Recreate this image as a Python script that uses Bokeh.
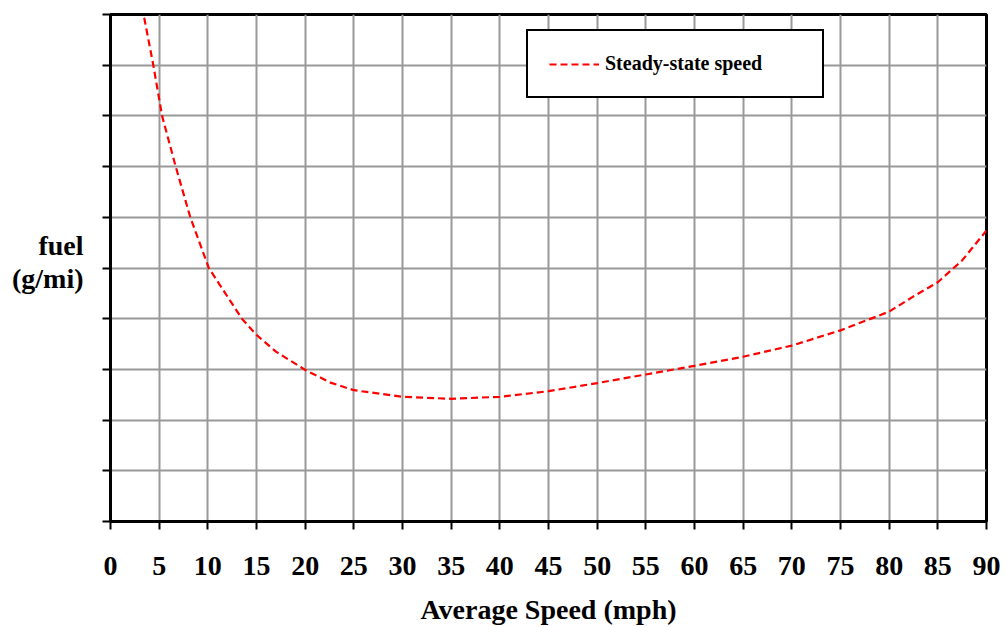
from bokeh.plotting import figure
from bokeh.models import Range1d, FixedTicker, Legend, LegendItem, LinearAxis
from bokeh.embed import file_html
from bokeh.resources import INLINE

# Data (fuel in grid units, y axis unlabeled)
speed = [3.3, 3.4, 4.4, 5.3, 6.7, 8.2, 10.1, 11.8, 13.5, 15, 17, 20, 22.6, 25,
         30, 35, 40, 45, 50, 55, 60, 65, 70, 75, 80, 82.5, 85, 87.5, 90]
fuel = [10.15, 10.0, 9.0, 8.0, 7.0, 6.0, 5.0, 4.5, 4.0, 3.68, 3.35, 2.99, 2.74, 2.59,
        2.46, 2.42, 2.46, 2.57, 2.73, 2.90, 3.07, 3.25, 3.47, 3.77, 4.14, 4.44, 4.72, 5.15, 5.74]
x_ticks = list(range(0, 95, 5))
y_ticks = list(range(0, 11))
series_name = "Steady-state speed"
x_title = "Average Speed (mph)"
y_title = "fuel\n(g/mi)"
y_title_pos = 5.12

FONT = "Liberation Serif"

p = figure(width=1005, height=627, output_backend="svg", toolbar_location=None,
           x_range=Range1d(0, 90), y_range=Range1d(0, 10),
           min_border_left=110, min_border_right=19, min_border_top=14, min_border_bottom=105)
p.background_fill_color = "white"
p.border_fill_color = "white"
p.outline_line_color = "black"
p.outline_line_width = 3

# Grid
p.xgrid.ticker = FixedTicker(ticks=x_ticks)
p.ygrid.ticker = FixedTicker(ticks=y_ticks)
for g in (p.xgrid, p.ygrid):
    g.grid_line_color = "#999999"
    g.grid_line_width = 2

# X axis
xa = p.xaxis[0]
xa.ticker = FixedTicker(ticks=x_ticks)
xa.axis_line_width = 3
xa.axis_line_color = "black"
xa.major_tick_in = 0
xa.major_tick_out = 8
xa.major_tick_line_width = 2
xa.minor_tick_line_color = None
xa.major_label_text_font = FONT
xa.major_label_text_font_style = "bold"
xa.major_label_text_font_size = "28px"
xa.major_label_text_color = "black"
xa.major_label_standoff = 27
xa.axis_label = x_title
xa.axis_label_text_font = FONT
xa.axis_label_text_font_style = "bold"
xa.axis_label_text_font_size = "28px"
xa.axis_label_text_color = "black"
xa.axis_label_standoff = 16

# Y axis (ticks only)
ya = p.yaxis[0]
ya.ticker = FixedTicker(ticks=y_ticks)
ya.axis_line_width = 3
ya.axis_line_color = "black"
ya.major_tick_in = 0
ya.major_tick_out = 8
ya.major_tick_line_width = 2
ya.minor_tick_line_color = None
ya.major_label_text_color = None
ya.major_label_text_font_size = "1px"
ya.major_label_standoff = 0

# Y title drawn as a horizontal label on an extra left axis
ta = LinearAxis(ticker=FixedTicker(ticks=[y_title_pos]),
                major_label_overrides={y_title_pos: y_title},
                axis_line_color=None, major_tick_line_color=None,
                minor_tick_line_color=None, major_tick_in=0, major_tick_out=0,
                major_label_standoff=19,
                major_label_text_font=FONT, major_label_text_font_style="bold",
                major_label_text_font_size="28px", major_label_text_color="black",
                major_label_text_align="center", major_label_text_line_height=1.05)
p.add_layout(ta, "left")

# Curve
r = p.line(speed, fuel, line_color="red", line_width=2.2, line_dash="7 4")

legend = Legend(items=[LegendItem(label=series_name, renderers=[r])],
                location=(416, 423), margin=0, padding=21,
                glyph_width=50, glyph_height=20, label_standoff=6,
                label_width=196, label_height=20,
                border_line_color="black", border_line_width=2, border_line_alpha=1.0,
                background_fill_color="white", background_fill_alpha=1.0,
                label_text_font=FONT, label_text_font_style="bold",
                label_text_font_size="20px", label_text_color="black")
p.add_layout(legend)

open("out.html", "w").write(file_html(p, INLINE))
